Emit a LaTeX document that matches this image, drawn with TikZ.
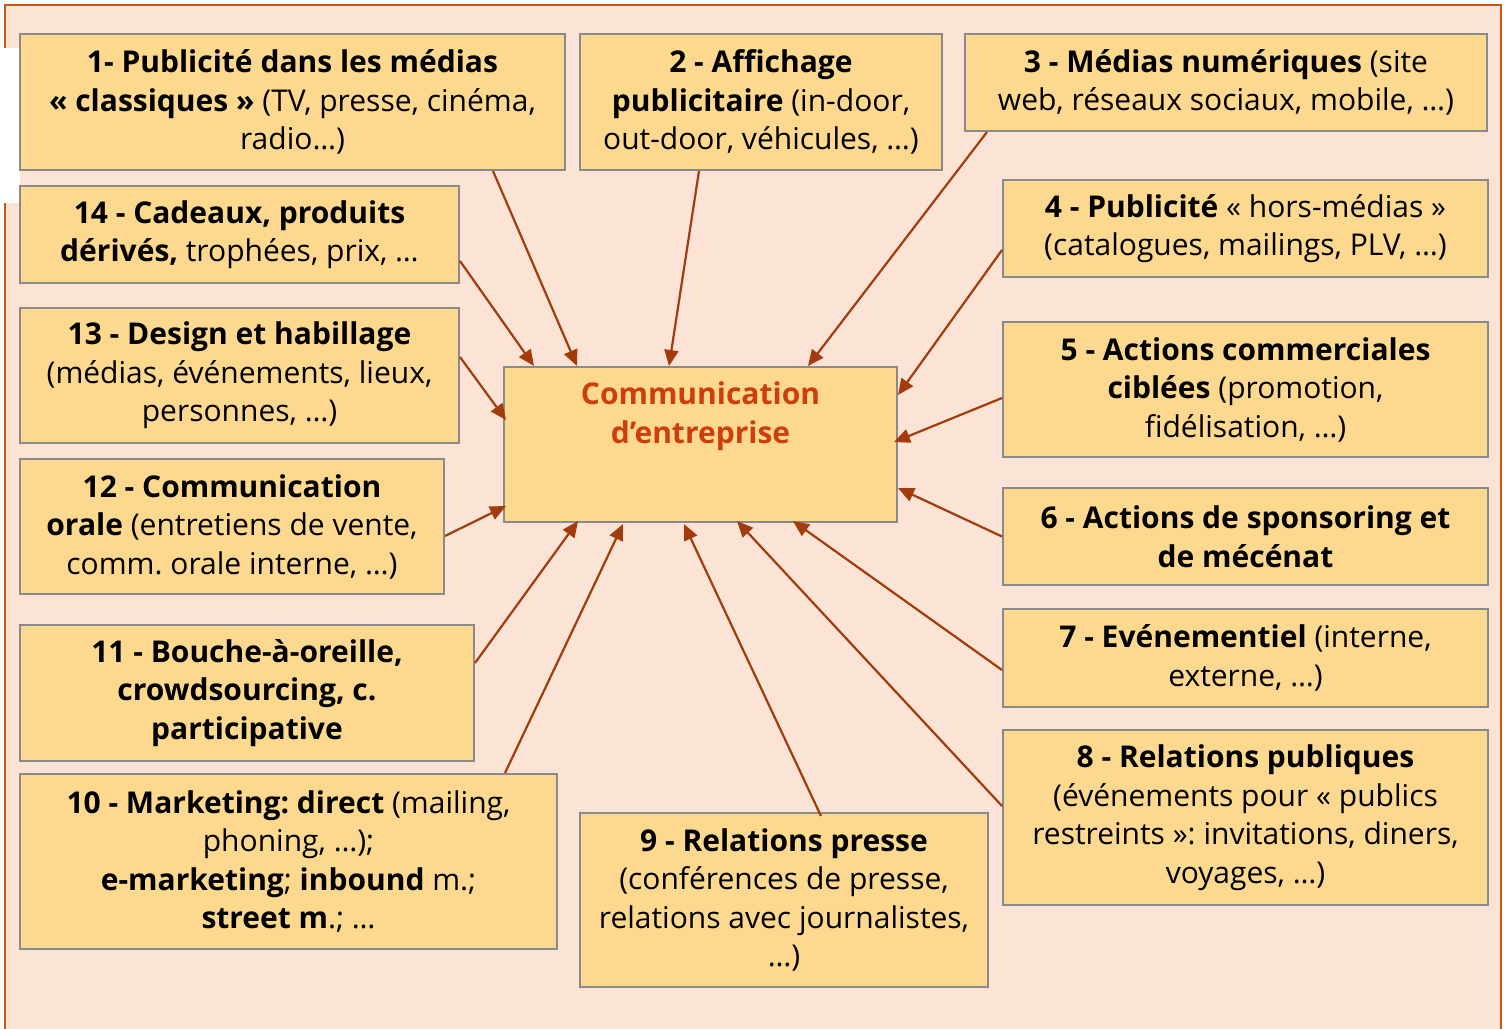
\documentclass[tikz,border=0pt]{standalone}
\usepackage{fontspec}
\setmainfont{Open Sans}
\usepackage{xcolor}
\usetikzlibrary{arrows.meta, positioning}
\frenchspacing

\definecolor{peach}{HTML}{FBE4D6}
\definecolor{rust}{HTML}{C55A11}
\definecolor{gold}{HTML}{FDD98F}
\definecolor{boxgray}{HTML}{8A8A8A}
\definecolor{arrowred}{HTML}{A33B0C}
\definecolor{hubred}{HTML}{CC3F0C}

\begin{document}
\begin{tikzpicture}[
    x=0.5pt, y=-0.5pt,
    box/.style={draw=boxgray, line width=1pt, fill=gold, align=center, inner sep=1pt, font=\fontsize{15}{19.25}\selectfont},
    hub/.style={box, minimum width=196.5pt, minimum height=77.5pt},
    hubtext/.style={anchor=north, yshift=-4.5pt, align=center, text=hubred, font=\fontsize{15}{19.5}\selectfont\bfseries},
    arrow/.style={-{Triangle[length=8pt,width=7pt]}, line width=1.1pt, draw=arrowred},
]
\useasboundingbox (0,0) rectangle (1506,1029);
% background panel
\filldraw[fill=peach, draw=rust, line width=1.25pt] (5,5) rectangle (1501,1045);
\fill[white] (0,48) rectangle (20,203);

% central box
\node[hub, label={[hubtext]north:{Communication\\d’entreprise}}] (hub) at (700.5,444.5) {};

% the fourteen means
\node[box, minimum width=272.5pt, minimum height=68pt] (m1) at (292.5,102) {\textbf{1- Publicité dans les médias}\\\textbf{« classiques »} (TV, presse, cinéma,\\radio…)};
\node[box, minimum width=181pt, minimum height=68pt] (m2) at (761,102) {\textbf{2 - Affichage}\\\textbf{publicitaire} (in-door,\\out-door, véhicules, …)};
\node[box, minimum width=261pt, minimum height=48.5pt] (m3) at (1226,82.5) {\textbf{3 - Médias numériques} (site\\web, réseaux sociaux, mobile, …)};
\node[box, minimum width=242.5pt, minimum height=48.5pt] (m4) at (1245.5,228.5) {\textbf{4 - Publicité} « hors-médias »\\(catalogues, mailings, PLV, …)};
\node[box, minimum width=242.5pt, minimum height=67.5pt] (m5) at (1245.5,389.5) {\textbf{5 - Actions commerciales}\\\textbf{ciblées} (promotion,\\fidélisation, …)};
\node[box, minimum width=242.5pt, minimum height=48.5pt] (m6) at (1245.5,536.5) {\textbf{6 - Actions de sponsoring et}\\\textbf{de mécénat}};
\node[box, minimum width=242.5pt, minimum height=49pt] (m7) at (1245.5,658) {\textbf{7 - Evénementiel} (interne,\\externe, …)};
\node[box, minimum width=242.5pt, minimum height=87.5pt] (m8) at (1245.5,817.5) {\textbf{8 - Relations publiques}\\(événements pour « publics\\restreints »: invitations, diners,\\voyages, …)};
\node[box, minimum width=204pt, minimum height=87pt] (m9) at (784,900) {\textbf{9 - Relations presse}\\(conférences de presse,\\relations avec journalistes,\\…)};
\node[box, minimum width=268.5pt, minimum height=87.5pt] (m10) at (288.5,861.5) {\textbf{10 - Marketing: direct} (mailing,\\phoning, …);\\\textbf{e-marketing}; \textbf{inbound} m.;\\\textbf{street m}.; …};
\node[box, minimum width=227pt, minimum height=68pt] (m11) at (247,693) {\textbf{11 - Bouche-à-oreille,}\\\textbf{crowdsourcing, c.}\\\textbf{participative}};
\node[box, minimum width=212pt, minimum height=67.5pt] (m12) at (232,526.5) {\textbf{12 - Communication}\\\textbf{orale} (entretiens de vente,\\comm. orale interne, …)};
\node[box, minimum width=219.5pt, minimum height=67.5pt] (m13) at (239.5,375.5) {\textbf{13 - Design et habillage}\\(médias, événements, lieux,\\personnes, …)};
\node[box, minimum width=219.5pt, minimum height=48.5pt] (m14) at (239.5,234.5) {\textbf{14 - Cadeaux, produits}\\\textbf{dérivés,} trophées, prix, …};

% arrows towards the centre
\draw[arrow] ([xshift=-36.5pt]m1.south east) -- ([xshift=37pt]hub.north west);
\draw[arrow] ([xshift=60pt]m2.south west) -- ([xshift=83pt]hub.north west);
\draw[arrow] ([xshift=11.5pt]m3.south west) -- ([xshift=-45pt]hub.north east);
\draw[arrow] ([yshift=-10.75pt]m4.west) -- ([yshift=-14.5pt]hub.north east);
\draw[arrow] ([yshift=-4.25pt]m5.west) -- ([xshift=-2pt,yshift=1.25pt]hub.east);
\draw[arrow] (m6.west) -- ([yshift=-21.75pt]hub.east);
\draw[arrow] ([yshift=-6pt]m7.west) -- ([xshift=-52.5pt,yshift=1pt]hub.south east);
\draw[arrow] ([yshift=5.75pt]m8.west) -- ([xshift=-80.5pt,yshift=1pt]hub.south east);
\draw[arrow] ([xshift=18.5pt,yshift=-2pt]m9.north) -- ([xshift=-8.25pt,yshift=-0.5pt]hub.south);
\draw[arrow] ([xshift=-26.5pt]m10.north east) -- ([xshift=60pt,yshift=-0.5pt]hub.south west);
\draw[arrow] ([yshift=15pt]m11.east) -- ([xshift=37.5pt,yshift=1pt]hub.south west);
\draw[arrow] ([yshift=-4.75pt]m12.east) -- ([xshift=1.5pt,yshift=8.5pt]hub.south west);
\draw[arrow] ([yshift=9.25pt]m13.east) -- ([xshift=1.5pt,yshift=12.25pt]hub.west);
\draw[arrow] ([yshift=-13.25pt]m14.east) -- ([xshift=15.5pt]hub.north west);
\end{tikzpicture}
\end{document}
